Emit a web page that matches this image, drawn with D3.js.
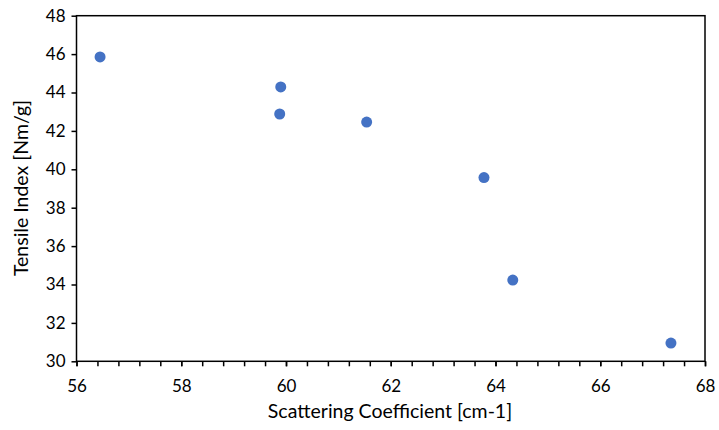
<!DOCTYPE html>
<html><head><meta charset="utf-8">
<script src="https://cdn.jsdelivr.net/npm/d3@7"></script>
<style>body{margin:0;background:#fff;} text{font-family:Lato,"Open Sans",sans-serif;fill:#000;}</style>
</head><body><svg id="c" width="719" height="430"></svg>
<script>
const xValues = [56.45, 59.90, 59.88, 61.54, 63.78, 64.33, 67.35];
const yValues = [45.85, 44.29, 42.88, 42.46, 39.57, 34.23, 30.95];
const xTicks = [56, 58, 60, 62, 64, 66, 68];
const yTicks = [30, 32, 34, 36, 38, 40, 42, 44, 46, 48];
const xTitle = "Scattering Coefficient [cm-1]";
const yTitle = "Tensile Index [Nm/g]";

const svg = d3.select("#c");
const L = 76.5, R = 705, T = 15.7, B = 361.3;
const x = d3.scaleLinear().domain([56, 68]).range([L, R]);
const y = d3.scaleLinear().domain([30, 48]).range([B, T]);

svg.append("rect").attr("x", L).attr("y", T).attr("width", R - L).attr("height", B - T)
  .attr("fill", "none").attr("stroke", "#000").attr("stroke-width", 1.5);

const minor = d3.range(56, 68.001, 0.4);
svg.append("g").attr("transform", `translate(0,${B})`)
  .call(d3.axisBottom(x).tickValues(minor).tickSize(5).tickFormat(""))
  .call(g => { g.select(".domain").remove(); g.selectAll("line").attr("stroke-width", 1.5); });
svg.append("g").attr("transform", `translate(0,${B})`)
  .call(d3.axisBottom(x).tickValues(xTicks).tickSize(5).tickPadding(14).tickFormat(d3.format("d")))
  .call(g => { g.select(".domain").remove(); g.selectAll("line").attr("stroke-width", 1.5);
    g.selectAll("text").attr("font-size", 17).style("font-family", "Lato, sans-serif"); });

svg.append("g").attr("transform", `translate(${L},0)`)
  .call(d3.axisLeft(y).tickValues(yTicks).tickSize(5).tickPadding(6).tickFormat(d3.format("d")))
  .call(g => { g.select(".domain").remove(); g.selectAll("line").attr("stroke-width", 1.5);
    g.selectAll("text").attr("font-size", 17).style("font-family", "Lato, sans-serif"); });

svg.append("g").selectAll("circle").data(xValues).join("circle")
  .attr("cx", d => x(d)).attr("cy", (d, i) => y(yValues[i])).attr("r", 5.5)
  .attr("fill", "#4472C4");

svg.append("text").attr("x", 390).attr("y", 418).attr("text-anchor", "middle")
  .attr("font-size", 19.5).text(xTitle);
svg.append("text").attr("transform", `translate(28,188) rotate(-90)`)
  .attr("text-anchor", "middle").attr("font-size", 19.5).text(yTitle);
</script></body></html>
